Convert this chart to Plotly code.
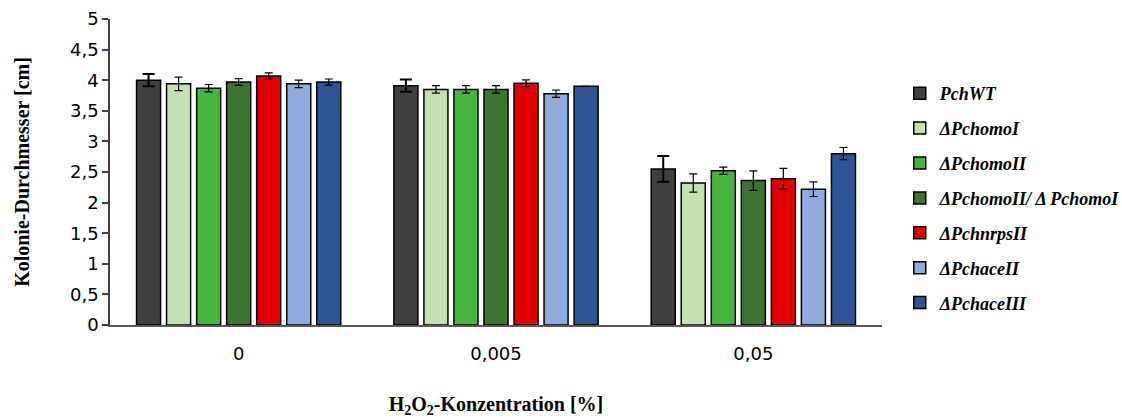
import plotly.graph_objects as go

# H2O2 concentrations (%) on the x axis
concentrations = ["0", "0,005", "0,05"]

# strain names (legend) and fill colours
strains = [
    "PchWT",
    "ΔPchomoI",
    "ΔPchomoII",
    "ΔPchomoII/ Δ PchomoI",
    "ΔPchnrpsII",
    "ΔPchaceII",
    "ΔPchaceIII",
]
colors = ["#404040", "#c5e0b3", "#47b43f", "#3c7430", "#e00000", "#8faadc", "#2f5597"]

# mean colony diameter [cm] per strain, one value per concentration
pchwt = [4.00, 3.91, 2.55]
pchomo1 = [3.94, 3.85, 2.32]
pchomo2 = [3.87, 3.85, 2.52]
pchomo2_1 = [3.97, 3.85, 2.36]
pchnrps2 = [4.07, 3.95, 2.39]
pchace2 = [3.94, 3.78, 2.22]
pchace3 = [3.97, 3.90, 2.80]

# standard deviations
pchwt_sd = [0.10, 0.10, 0.21]
pchomo1_sd = [0.11, 0.06, 0.15]
pchomo2_sd = [0.06, 0.06, 0.06]
pchomo2_1_sd = [0.055, 0.06, 0.16]
pchnrps2_sd = [0.05, 0.055, 0.17]
pchace2_sd = [0.06, 0.06, 0.12]
pchace3_sd = [0.05, 0.0, 0.10]

values = [pchwt, pchomo1, pchomo2, pchomo2_1, pchnrps2, pchace2, pchace3]
errors = [pchwt_sd, pchomo1_sd, pchomo2_sd, pchomo2_1_sd, pchnrps2_sd, pchace2_sd, pchace3_sd]

serif = "Liberation Serif, Times New Roman, serif"

fig = go.Figure()
for i, (name, col, vals, sd) in enumerate(zip(strains, colors, values, errors)):
    fig.add_trace(go.Bar(
        x=concentrations,
        y=vals,
        name=name,
        legendgroup=f"g{i}",
        marker=dict(color=col, line=dict(color="#000000", width=1.5)),
        error_y=dict(
            type="data",
            array=sd,
            visible=True,
            color="#000000",
            thickness=2 if i == 0 else 1.2,
            width=6 if i == 0 else 4,
        ),
    ))

fig.update_layout(
    width=1122,
    height=418,
    margin=dict(l=110, r=240, t=19, b=93, autoexpand=False),
    paper_bgcolor="white",
    plot_bgcolor="white",
    barmode="group",
    bargap=0.183,
    bargroupgap=0.2,
    showlegend=True,
    legend=dict(
        x=1.023,
        xanchor="left",
        y=0.817,
        yanchor="top",
        font=dict(family=serif, size=18, color="#000000", style="italic", weight="bold"),
        tracegroupgap=8.5,
        bgcolor="rgba(0,0,0,0)",
        itemclick=False,
    ),
    xaxis=dict(
        automargin=False,
        showline=True,
        linecolor="#595959",
        linewidth=1.5,
        ticks="",
        showgrid=False,
        ticklabelstandoff=12,
        tickfont=dict(family="DejaVu Sans", size=18, color="#000000"),
        title=dict(
            text="<b>H<sub>2</sub>O<sub>2</sub>-Konzentration [%]</b>",
            font=dict(family=serif, size=20, color="#000000"),
            standoff=40,
        ),
    ),
    yaxis=dict(
        automargin=False,
        range=[0, 5],
        tickvals=[0, 0.5, 1, 1.5, 2, 2.5, 3, 3.5, 4, 4.5, 5],
        ticktext=["0", "0,5", "1", "1,5", "2", "2,5", "3", "3,5", "4", "4,5", "5"],
        showline=True,
        linecolor="#404040",
        linewidth=1.5,
        ticks="outside",
        ticklen=6,
        tickwidth=1.5,
        tickcolor="#404040",
        showgrid=False,
        zeroline=False,
        tickfont=dict(family="DejaVu Sans", size=18, color="#000000"),
        title=dict(
            text="<b>Kolonie-Durchmesser [cm]</b>",
            font=dict(family=serif, size=20, color="#000000"),
            standoff=35,
        ),
    ),
)

fig.write_html("out.html")
